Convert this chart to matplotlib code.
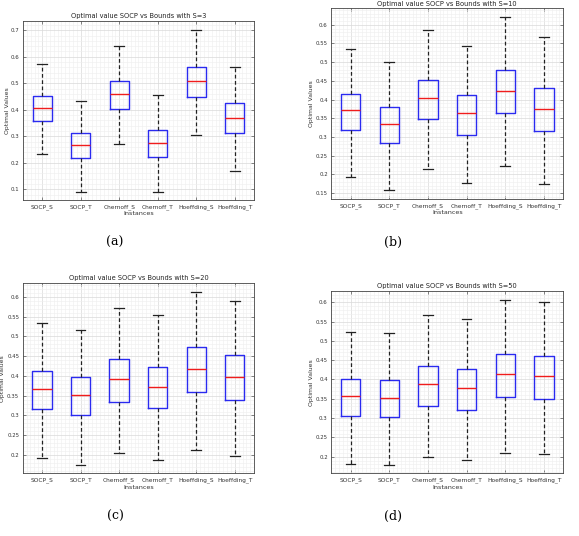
import matplotlib
matplotlib.use("Agg")
import matplotlib.pyplot as plt
import numpy as np
from matplotlib.ticker import MultipleLocator, FuncFormatter

categories = ["SOCP_S", "SOCP_T", "Chernoff_S", "Chernoff_T", "Hoeffding_S", "Hoeffding_T"]

# each row: [whisker_low, Q1, median, Q3, whisker_high]
stats_s3 = [
    [0.233, 0.356, 0.408, 0.453, 0.574],
    [0.091, 0.218, 0.267, 0.312, 0.433],
    [0.271, 0.403, 0.459, 0.508, 0.640],
    [0.089, 0.222, 0.276, 0.325, 0.454],
    [0.306, 0.450, 0.510, 0.563, 0.702],
    [0.168, 0.311, 0.370, 0.424, 0.562],
]
stats_s10 = [
    [0.194, 0.319, 0.371, 0.4155, 0.536],
    [0.157, 0.2845, 0.3335, 0.380, 0.500],
    [0.215, 0.347, 0.403, 0.453, 0.585],
    [0.178, 0.306, 0.364, 0.412, 0.544],
    [0.221, 0.365, 0.424, 0.480, 0.620],
    [0.174, 0.317, 0.375, 0.430, 0.568],
]
stats_s20 = [
    [0.192, 0.316, 0.367, 0.412, 0.533],
    [0.176, 0.302, 0.351, 0.396, 0.517],
    [0.205, 0.335, 0.393, 0.442, 0.572],
    [0.188, 0.318, 0.373, 0.423, 0.553],
    [0.214, 0.359, 0.418, 0.473, 0.611],
    [0.197, 0.340, 0.398, 0.452, 0.589],
]
stats_s50 = [
    [0.182, 0.306, 0.356, 0.402, 0.523],
    [0.178, 0.304, 0.352, 0.399, 0.520],
    [0.199, 0.330, 0.387, 0.435, 0.568],
    [0.191, 0.320, 0.378, 0.426, 0.557],
    [0.210, 0.354, 0.413, 0.467, 0.607],
    [0.206, 0.349, 0.408, 0.462, 0.600],
]

titles = ["Optimal value SOCP vs Bounds with S=3",
          "Optimal value SOCP vs Bounds with S=10",
          "Optimal value SOCP vs Bounds with S=20",
          "Optimal value SOCP vs Bounds with S=50"]
captions = ["(a)", "(b)", "(c)", "(d)"]
ylims = [(0.06, 0.735), (0.134, 0.644), (0.154, 0.634), (0.157, 0.629)]
yticks_major = [0.1, 0.05, 0.05, 0.05]
positions = [
    [0.0397, 0.6269, 0.399, 0.334],
    [0.5722, 0.6287, 0.4007, 0.3558],
    [0.0392, 0.117, 0.3997, 0.3545],
    [0.5722, 0.117, 0.4007, 0.340],
]
ylabel_x = [-0.058, -0.075, -0.075, -0.075]
caption_xy = [(115, 242), (393, 242), (115, 516), (393, 516)]
all_stats = [stats_s3, stats_s10, stats_s20, stats_s50]

fig = plt.figure(figsize=(5.79, 5.36), dpi=100)
W, H = 579, 536
fmt = FuncFormatter(lambda v, p: ("%.2f" % v).rstrip("0").rstrip("."))

for k in range(4):
    ax = fig.add_axes(positions[k])
    bxp_stats = []
    for name, s in zip(categories, all_stats[k]):
        bxp_stats.append(dict(whislo=s[0], q1=s[1], med=s[2], q3=s[3], whishi=s[4],
                              fliers=[], label=name))
    ax.bxp(bxp_stats, positions=np.arange(1, 7), widths=0.5, showfliers=False,
           boxprops=dict(color="#2a2af0", linewidth=1.0),
           medianprops=dict(color="#f01c1c", linewidth=1.0),
           whiskerprops=dict(color="#222222", linestyle=(0, (3, 2)), linewidth=0.9),
           capprops=dict(color="#222222", linewidth=0.9),
           capwidths=0.25)
    ax.set_xlim(0.5, 6.5)
    ax.set_ylim(*ylims[k])
    ax.yaxis.set_major_locator(MultipleLocator(yticks_major[k]))
    ax.yaxis.set_major_formatter(fmt)
    ax.yaxis.set_minor_locator(MultipleLocator(yticks_major[k] / 5))
    ax.xaxis.set_minor_locator(MultipleLocator(0.1))
    ax.grid(True, which="major", color="#d9d9d9", linewidth=0.5)
    ax.grid(True, which="minor", color="#eeeeee", linewidth=0.4)
    ax.set_axisbelow(True)
    ax.tick_params(which="both", direction="in", labelsize=3.9, colors="#333333",
                   top=True, right=True, length=2, width=0.4, pad=2.5)
    ax.tick_params(which="minor", length=0)
    ax.tick_params(axis="x", pad=3, labelsize=4.2)
    ax.set_xticks(np.arange(1, 7))
    ax.set_xticklabels(categories)
    for sp in ax.spines.values():
        sp.set_color("#444444")
        sp.set_linewidth(0.6)
    ax.set_title(titles[k], fontsize=4.8, pad=2, color="#222222")
    ax.set_xlabel("Instances", fontsize=4.6, labelpad=1, color="#333333")
    ax.set_ylabel("Optimal Values", fontsize=4.4, color="#333333")
    ax.yaxis.set_label_coords(ylabel_x[k], 0.5)
    cx, cy = caption_xy[k]
    fig.text(cx / W, 1 - cy / H, captions[k], ha="center", va="center",
             fontsize=9, family="DejaVu Serif")

fig.savefig("out.png", dpi=100, facecolor="white")
